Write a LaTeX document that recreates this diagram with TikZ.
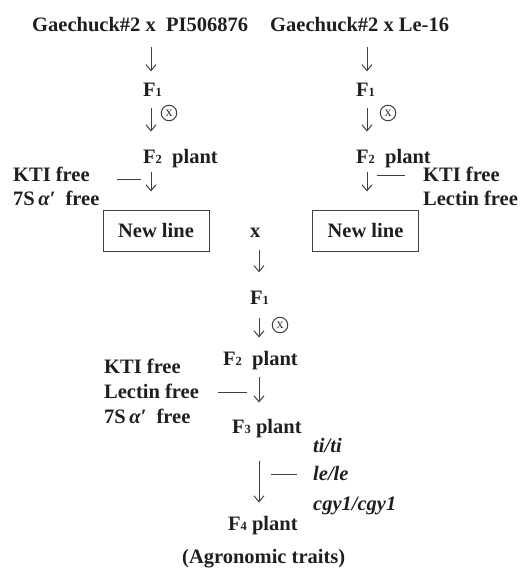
\documentclass[tikz,border=0pt]{standalone}
\usepackage{fontspec}
\setmainfont{Liberation Serif}
\usetikzlibrary{arrows.meta}
\newcommand{\subd}[1]{{\fontsize{12.5}{13}\selectfont #1}}
\begin{document}
\begin{tikzpicture}[x=1pt,y=-1pt,
  lbl/.style={anchor=base west,inner sep=0pt,text=black!88,font=\bfseries\fontsize{20.5}{24}\selectfont},
  gene/.style={lbl,font=\bfseries\itshape\fontsize{20.5}{24}\selectfont},
  arr/.style={-{Straight Barb[length=6pt,width=10pt,line width=1pt]},line width=1pt,draw=black!75},
  tie/.style={line width=1pt,draw=black!75},
  selfing/.style={circle,draw=black!75,line width=1pt,inner sep=0pt,minimum size=15.5pt,text=black!80,font=\fontsize{14}{14}\selectfont},
  linebox/.style={draw=black!75,line width=1pt,minimum width=106pt,minimum height=41pt,inner sep=0pt,text=black!88,font=\bfseries\fontsize{20.5}{24}\selectfont}
]
\useasboundingbox (0,0) rectangle (530,569);

% column coordinates
\coordinate (colL) at (151,0);
\coordinate (colR) at (367,0);
\coordinate (colM) at (259,0);

% left cross
\node[lbl] (t1) at (32,32) {Gaechuck\#2 x\ \ PI506876};
\node[lbl] (f1L) at (143,97) {F\subd{1}};
\node[selfing] (sL) at (169,113) {x};
\node[lbl] (f2L) at (143,164) {F\subd{2}\ \ plant};
\node[lbl] (ktiL) at (13,182) {KTI free};
\node[lbl] (sevL) at (13,205) {7S\,{\itshape α′}\ \ free};
\node[linebox] (nlL) at (156,230.5) {New line};

% right cross
\node[lbl] (t2) at (270,32) {Gaechuck\#2 x Le-16};
\node[lbl] (f1R) at (356,97) {F\subd{1}};
\node[selfing] (sR) at (388,113) {x};
\node[lbl] (f2R) at (356,164) {F\subd{2}\ \ plant};
\node[lbl] (ktiR) at (423,182) {KTI free};
\node[lbl] (lecR) at (423,205) {Lectin free};
\node[linebox] (nlR) at (365.5,230.5) {New line};

% middle
\node[lbl] (cross) at (250,237) {x};
\node[lbl] (f1M) at (250,304) {F\subd{1}};
\node[selfing] (sM) at (280,325) {x};
\node[lbl] (f2M) at (223,365) {F\subd{2}\ \ plant};
\node[lbl] (ktiM) at (104,373) {KTI free};
\node[lbl] (lecM) at (104,398) {Lectin free};
\node[lbl] (sevM) at (104,423) {7S\,{\itshape α′}\ \ free};
\node[lbl] (f3M) at (232,433) {F\subd{3}\ plant};
\node[gene] (ti) at (313,452) {ti/ti};
\node[gene] (le) at (313,480) {le/le};
\node[gene] (cgy) at (313,510) {cgy1/cgy1};
\node[lbl] (f4M) at (228,530) {F\subd{4}\ plant};
\node[lbl] (agro) at (182,563) {(Agronomic traits)};

% left arrows
\draw[arr,shorten <=15pt,shorten >=12pt] (t1.south -| colL) -- (f1L.north -| colL);
\draw[arr,shorten <=11pt,shorten >=18pt] (f1L.south -| colL) -- (f2L.north -| colL);
\draw[arr,shorten <=3pt,shorten >=18pt] (f2L.south -| colL) -- (nlL.north -| colL);
\draw[tie] (117,180) -- (141,180);

% right arrows
\draw[arr,shorten <=15pt,shorten >=12pt] (t2.south -| colR) -- (f1R.north -| colR);
\draw[arr,shorten <=11pt,shorten >=18pt] (f1R.south -| colR) -- (f2R.north -| colR);
\draw[arr,shorten <=3pt,shorten >=18pt] (f2R.south -| colR) -- (nlR.north -| colR);
\draw[tie] (377,176) -- (405,176);

% middle arrows
\draw[arr,shorten <=13pt,shorten >=18pt] (cross.south -| colM) -- (f1M.north -| colM);
\draw[arr,shorten <=14pt,shorten >=13pt] (f1M.south -| colM) -- (f2M.north -| colM);
\draw[arr,shorten <=7pt,shorten >=16pt] (f2M.south -| colM) -- (f3M.north -| colM);
\draw[tie] (218,392) -- (247,392);
\draw[arr,shorten <=23pt,shorten >=13pt] (f3M.south -| colM) -- (f4M.north -| colM);
\draw[tie] (271,474) -- (297,474);
\end{tikzpicture}
\end{document}
